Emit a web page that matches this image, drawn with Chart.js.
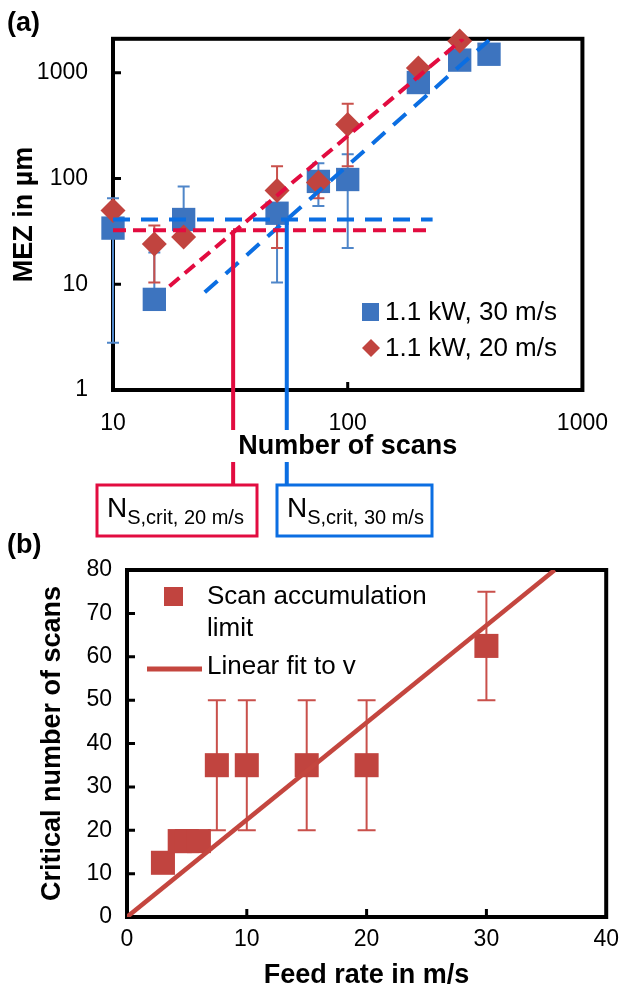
<!DOCTYPE html>
<html lang="en">
<head>
<meta charset="UTF-8" />
<title>MEZ and critical number of scans</title>
<script src="https://cdn.jsdelivr.net/npm/chart.js@4"></script>
<style>
  body { margin: 0; background: #fff; }
  .wrap { position: relative; width: 628px; height: 990px; }
  canvas { position: absolute; left: 0; }
  #chartA { top: 0; }
  #chartB { top: 520px; }
</style>
</head>
<body>
<div class="wrap">
  <canvas id="chartA" width="628" height="540"></canvas>
  <canvas id="chartB" width="628" height="470"></canvas>
</div>
<script>
// (a) MEZ over number of scans
const scansBlue = [10, 15, 20, 50, 75, 100, 200, 300, 400];
const mezBlue   = [34, 7.2, 41, 47, 94, 98, 810, 1320, 1500];
const errLoBlue = [2.8, null, null, 10.4, 55, 22, null, null, null];
const errHiBlue = [65, 20, 84, null, 140, 170, null, null, null];

const scansRed = [10, 15, 20, 50, 75, 100, 200, 300];
const mezRed   = [50, 24, 28, 77, 92, 325, 1110, 2000];
const errLoRed = [null, 10.4, null, 22, 65, 131, null, null];
const errHiRed = [null, 36, null, 131, null, 510, null, null];

// dashed guide lines, end points
const flatBlueX = [10, 230],   flatBlueY = [41, 41];
const flatRedX  = [10, 220],   flatRedY  = [32.5, 32.5];
const riseBlueX = [24.6, 400], riseBlueY = [8.4, 2040];
const riseRedX  = [17.4, 310], riseRedY  = [9.6, 2100];
const critScans = [32.5, 55];   // 20 m/s, 30 m/s
const critMez   = [32.5, 41];
const critLabels = ['20 m/s', '30 m/s'];

const xTicksA = [10, 100, 1000];
const yTicksA = [1, 10, 100, 1000];

// (b) critical number of scans over feed rate
const feedRate = [3, 4.4, 5, 6, 7.5, 10, 15, 20, 30];
const critN    = [12.5, 17.5, 17.5, 17.5, 35, 35, 35, 35, 62.5];
const critLo   = [null, null, null, null, 20, 20, 20, 20, 50];
const critHi   = [null, null, null, null, 50, 50, 50, 50, 75];
const fitX = [0, 35.7], fitY = [0, 80];

const FONT = "'Liberation Sans', Arial, sans-serif";
const BLUE = '#3d74bf', RED = '#c1443f';
const BLUE_ERR = '#4f86c9', RED_ERR = '#c9504b';
const BLUE_LINE = '#0b6ee2', RED_LINE = '#e20c40';
const FIT = '#c4463f';

const pts = (xs, ys) => xs.map((v, i) => ({ x: v, y: ys[i] }));

function frame(xIn, yIn) {
  return {
    id: 'frame',
    beforeDatasetsDraw(chart) {
      const { ctx, chartArea: a, scales: { x, y } } = chart;
      ctx.save();
      ctx.strokeStyle = '#000';
      ctx.lineWidth = 4;
      ctx.strokeRect(a.left, a.top, a.right - a.left, a.bottom - a.top);
      ctx.lineWidth = 3;
      ctx.beginPath();
      xIn.forEach(v => { const p = x.getPixelForValue(v); ctx.moveTo(p, a.bottom); ctx.lineTo(p, a.bottom - 8); });
      yIn.forEach(v => { const p = y.getPixelForValue(v); ctx.moveTo(a.left, p); ctx.lineTo(a.left + 8, p); });
      ctx.stroke();
      ctx.restore();
    }
  };
}

function errorBars(sets) {
  return {
    id: 'errorBars',
    beforeDatasetsDraw(chart) {
      const { ctx, scales: { x, y } } = chart;
      ctx.save();
      sets.forEach(s => {
        ctx.strokeStyle = s.color;
        ctx.lineWidth = 2;
        s.xs.forEach((xv, i) => {
          const px = x.getPixelForValue(xv), py = y.getPixelForValue(s.ys[i]);
          [s.lo[i], s.hi[i]].forEach(v => {
            if (v == null) return;
            const pv = y.getPixelForValue(v);
            ctx.beginPath();
            ctx.moveTo(px, py); ctx.lineTo(px, pv);
            ctx.moveTo(px - s.cap, pv); ctx.lineTo(px + s.cap, pv);
            ctx.stroke();
          });
        });
      });
      ctx.restore();
    }
  };
}

const notesA = {
  id: 'notesA',
  afterDraw(chart) {
    const { ctx, scales: { x, y } } = chart;
    ctx.save();
    ctx.fillStyle = '#000';
    ctx.textBaseline = 'middle';
    ctx.font = 'bold 27px ' + FONT;
    ctx.fillText('(a)', 7, 24);

    // legend
    ctx.font = '26px ' + FONT;
    ctx.fillStyle = BLUE;
    ctx.fillRect(362, 303, 17, 18);
    ctx.fillStyle = RED;
    ctx.beginPath();
    ctx.moveTo(371, 339); ctx.lineTo(380, 348); ctx.lineTo(371, 357); ctx.lineTo(362, 348);
    ctx.closePath(); ctx.fill();
    ctx.fillStyle = '#000';
    ctx.fillText('1.1 kW, 30 m/s', 385, 313);
    ctx.fillText('1.1 kW, 20 m/s', 385, 349);

    // critical scan numbers and their boxes
    const colors = [RED_LINE, BLUE_LINE];
    const boxes = [[97, 485, 160, 51], [277, 485, 155, 51]];
    critScans.forEach((n, i) => {
      const px = x.getPixelForValue(n);
      ctx.strokeStyle = colors[i];
      ctx.lineWidth = 4;
      ctx.beginPath();
      ctx.moveTo(px, y.getPixelForValue(critMez[i]));
      ctx.lineTo(px, 430);
      ctx.moveTo(px, 462);
      ctx.lineTo(px, 485);
      ctx.stroke();
      const [bx, by, bw, bh] = boxes[i];
      ctx.lineWidth = 3;
      ctx.strokeRect(bx, by, bw, bh);
      ctx.fillStyle = '#000';
      ctx.textBaseline = 'alphabetic';
      ctx.font = '28px ' + FONT;
      ctx.fillText('N', bx + 10, 517);
      const nw = ctx.measureText('N').width;
      ctx.font = '20px ' + FONT;
      ctx.fillText('S,crit, ' + critLabels[i], bx + 10 + nw, 524);
    });
    ctx.restore();
  }
};

const notesB = {
  id: 'notesB',
  afterDraw(chart) {
    const { ctx } = chart;
    ctx.save();
    ctx.fillStyle = '#000';
    ctx.textBaseline = 'middle';
    ctx.font = 'bold 27px ' + FONT;
    ctx.fillText('(b)', 7, 26);
    ctx.fillStyle = RED;
    ctx.fillRect(164, 67, 19, 19);
    ctx.strokeStyle = FIT;
    ctx.lineWidth = 5;
    ctx.beginPath(); ctx.moveTo(147, 149); ctx.lineTo(202, 149); ctx.stroke();
    ctx.fillStyle = '#000';
    ctx.font = '26px ' + FONT;
    ctx.fillText('Scan accumulation', 207, 77);
    ctx.fillText('limit', 207, 109);
    ctx.fillText('Linear fit to v', 207, 147);
    ctx.restore();
  }
};

const tickFont = { size: 23, family: FONT };
const titleFont = { size: 27, weight: 'bold', family: FONT };

new Chart(document.getElementById('chartA'), {
  type: 'scatter',
  data: {
    datasets: [
      { label: '1.1 kW, 30 m/s', data: pts(scansBlue, mezBlue), pointStyle: 'rect', pointRadius: 16.5,
        backgroundColor: BLUE, borderWidth: 0, order: 3, clip: false },
      { label: '1.1 kW, 20 m/s', data: pts(scansRed, mezRed), pointStyle: 'rectRot', pointRadius: 12.5,
        backgroundColor: RED, borderWidth: 0, order: 2, clip: false },
      { data: pts(flatBlueX, flatBlueY), showLine: true, borderColor: BLUE_LINE, borderWidth: 4,
        borderDash: [17, 11], pointRadius: 0, order: 1 },
      { data: pts(flatRedX, flatRedY), showLine: true, borderColor: RED_LINE, borderWidth: 4,
        borderDash: [13, 7], pointRadius: 0, order: 1 },
      { data: pts(riseBlueX, riseBlueY), showLine: true, borderColor: BLUE_LINE, borderWidth: 4,
        borderDash: [17, 11], pointRadius: 0, order: 1 },
      { data: pts(riseRedX, riseRedY), showLine: true, borderColor: RED_LINE, borderWidth: 4,
        borderDash: [13, 7], pointRadius: 0, order: 1 }
    ]
  },
  options: {
    responsive: false,
    animation: false,
    events: [],
    layout: { padding: { top: 30, right: 33, left: 0, bottom: 0 } },
    plugins: { legend: { display: false }, tooltip: { enabled: false } },
    scales: {
      x: {
        type: 'logarithmic', min: 10, max: 1000,
        grid: { display: false, drawTicks: false }, border: { display: false },
        afterBuildTicks: s => { s.ticks = xTicksA.map(v => ({ value: v })); },
        afterFit: s => { s.height = 150; },
        ticks: { callback: v => String(v), padding: 20, font: tickFont, color: '#000', maxRotation: 0, autoSkip: false },
        title: { display: true, text: 'Number of scans', font: titleFont, color: '#000', padding: { top: 0, bottom: 77 } }
      },
      y: {
        type: 'logarithmic', min: 1, max: 2100,
        grid: { display: false, drawTicks: false }, border: { display: false },
        afterBuildTicks: s => { s.ticks = yTicksA.map(v => ({ value: v })); },
        afterFit: s => { s.width = 113; },
        ticks: { callback: v => String(v), padding: 25, font: tickFont, color: '#000', autoSkip: false },
        title: { display: true, text: 'MEZ in µm', font: titleFont, color: '#000', padding: { top: 8, bottom: 0 } }
      }
    }
  },
  plugins: [
    frame([100], [10, 100, 1000]),
    errorBars([
      { xs: scansBlue, ys: mezBlue, lo: errLoBlue, hi: errHiBlue, color: BLUE_ERR, cap: 6 },
      { xs: scansRed, ys: mezRed, lo: errLoRed, hi: errHiRed, color: RED_ERR, cap: 6 }
    ]),
    notesA
  ]
});

new Chart(document.getElementById('chartB'), {
  type: 'scatter',
  data: {
    datasets: [
      { label: 'Scan accumulation limit', data: pts(feedRate, critN), pointStyle: 'rect', pointRadius: 17,
        backgroundColor: RED, borderWidth: 0, order: 2, clip: false },
      { label: 'Linear fit to v', data: pts(fitX, fitY), showLine: true, borderColor: FIT, borderWidth: 4.5,
        pointRadius: 0, order: 1 }
    ]
  },
  options: {
    responsive: false,
    animation: false,
    events: [],
    layout: { padding: { top: 50, right: 16, left: 0, bottom: 0 } },
    plugins: { legend: { display: false }, tooltip: { enabled: false } },
    scales: {
      x: {
        type: 'linear', min: 0, max: 40,
        grid: { display: false, drawTicks: false }, border: { display: false },
        afterFit: s => { s.height = 73; },
        ticks: { stepSize: 10, padding: 9, font: tickFont, color: '#000', maxRotation: 0 },
        title: { display: true, text: 'Feed rate in m/s', font: { ...titleFont, lineHeight: 1 }, color: '#000', padding: { top: 0, bottom: 1 } }
      },
      y: {
        type: 'linear', min: 0, max: 80,
        grid: { display: false, drawTicks: false }, border: { display: false },
        afterFit: s => { s.width = 127; },
        ticks: { stepSize: 10, padding: 15, font: tickFont, color: '#000' },
        title: { display: true, text: 'Critical number of scans', font: titleFont, color: '#000', padding: { top: 36, bottom: 0 } }
      }
    }
  },
  plugins: [
    frame([10, 20, 30], [10, 20, 30, 40, 50, 60, 70]),
    errorBars([{ xs: feedRate, ys: critN, lo: critLo, hi: critHi, color: RED_ERR, cap: 9 }]),
    notesB
  ]
});
</script>
</body>
</html>
